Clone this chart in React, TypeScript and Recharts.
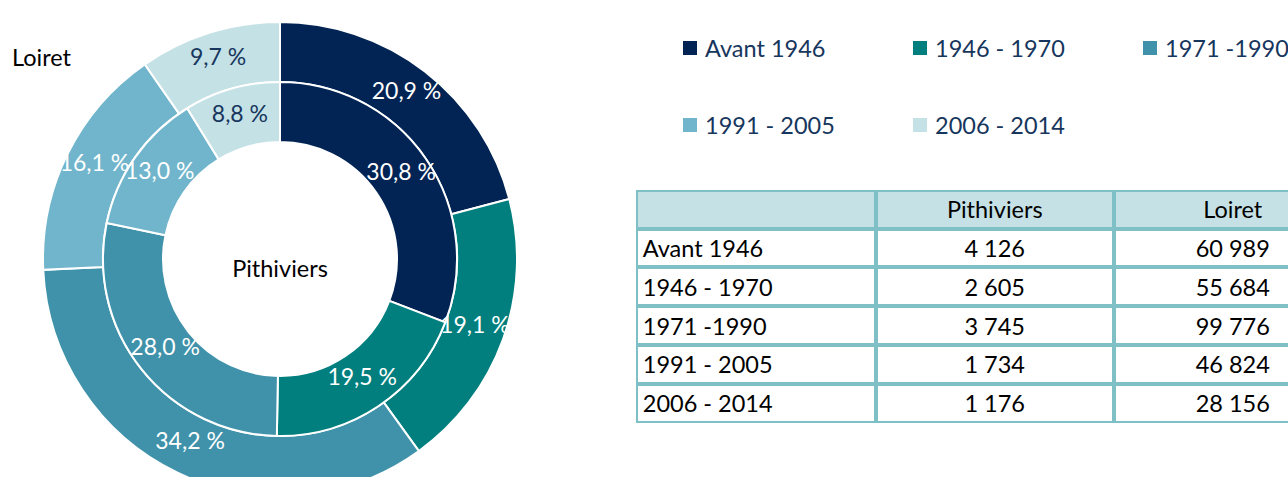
import React from 'react';
import { PieChart, Pie, Cell, Legend } from 'recharts';

const categories = ['Avant 1946', '1946 - 1970', '1971 -1990', '1991 - 2005', '2006 - 2014'];
const pithiviersValues = [4126, 2605, 3745, 1734, 1176];
const loiretValues = [60989, 55684, 99776, 46824, 28156];
const tableHeaders = ['', 'Pithiviers', 'Loiret'];
const pithiviersLabels = ['4 126', '2 605', '3 745', '1 734', '1 176'];
const loiretLabels = ['60 989', '55 684', '99 776', '46 824', '28 156'];
const colors = ['#022454', '#007f7e', '#3f92aa', '#70b5cc', '#c4e1e6'];
const labelColors = ['#ffffff', '#ffffff', '#ffffff', '#ffffff', '#17365d'];

const FONT = 'Lato, "Open Sans", sans-serif';
const RAD = Math.PI / 180;

const pithiviersData = categories.map((name, i) => ({ name, value: pithiviersValues[i] }));
const loiretData = categories.map((name, i) => ({ name, value: loiretValues[i] }));

const fmt = (p: number) => (p * 100).toFixed(1).replace('.', ',') + ' %';

const renderLabel = (props: any) => {
  const { cx, cy, midAngle, innerRadius, outerRadius, percent, index } = props;
  const r = (innerRadius + outerRadius) / 2;
  const x = cx + r * Math.cos(-midAngle * RAD);
  const y = cy + r * Math.sin(-midAngle * RAD) - 5;
  return (
    <text
      x={x}
      y={y}
      textAnchor="middle"
      dominantBaseline="central"
      fill={labelColors[index]}
      fontFamily={FONT}
      fontSize={23}
    >
      {fmt(percent)}
    </text>
  );
};

const LegendContent = () => {
  const xs = [683, 913, 1143];
  const ys = [48, 125];
  return (
    <div style={{ position: 'relative', width: 1288, height: 160 }}>
      {categories.map((c, i) => {
        const col = i % 3;
        const row = Math.floor(i / 3);
        return (
          <div
            key={c}
            style={{
              position: 'absolute',
              left: xs[col],
              top: ys[row] - 14,
              height: 28,
              display: 'flex',
              alignItems: 'center',
              whiteSpace: 'nowrap',
            }}
          >
            <span style={{ width: 14, height: 14, background: colors[i], display: 'inline-block', marginRight: 8 }} />
            <span style={{ fontFamily: FONT, fontSize: 23.5, color: '#17365d', lineHeight: '28px' }}>{c}</span>
          </div>
        );
      })}
    </div>
  );
};

const borderColor = '#7fbfc6';
const colWidths = [240, 238, 238];
const rowH = 38.8;

const DataTable = () => {
  const rows = categories.map((c, i) => [c, pithiviersLabels[i], loiretLabels[i]]);
  const all = [tableHeaders, ...rows];
  const colX = [0, colWidths[0], colWidths[0] + colWidths[1]];
  return (
    <div style={{ position: 'absolute', left: 637, top: 191, width: 720, height: rowH * 6 }}>
      {all.map((r, ri) =>
        r.map((cell, ci) => (
          <div
            key={ri + '-' + ci}
            style={{
              position: 'absolute',
              left: colX[ci] - 1.25,
              top: ri * rowH - 1.25,
              width: colWidths[ci],
              height: rowH,
              boxSizing: 'border-box',
              border: `2.5px solid ${borderColor}`,
              background: ri === 0 ? '#c5e1e5' : '#ffffff',
              display: 'flex',
              alignItems: 'center',
              justifyContent: ci === 0 ? 'flex-start' : 'center',
              paddingLeft: ci === 0 ? 5 : 0,
              fontFamily: FONT,
              fontSize: 23.5,
              color: '#000',
              whiteSpace: 'nowrap',
            }}
          >
            {cell}
          </div>
        ))
      )}
    </div>
  );
};

export default function App() {
  return (
    <div style={{ position: 'absolute', left: 0, top: 0, width: 1288, height: 477, overflow: 'hidden', background: '#fff', fontFamily: FONT }}>
      <PieChart width={1288} height={477} margin={{ top: 0, right: 0, bottom: 0, left: 0 }}>
        <Pie
          data={loiretData}
          dataKey="value"
          nameKey="name"
          cx={280}
          cy={259}
          innerRadius={177}
          outerRadius={237}
          startAngle={90}
          endAngle={-270}
          stroke="#ffffff"
          strokeWidth={2}
          isAnimationActive={false}
          label={renderLabel}
          labelLine={false}
        >
          {loiretData.map((d, i) => (
            <Cell key={d.name} fill={colors[i]} />
          ))}
        </Pie>
        <Pie
          data={pithiviersData}
          dataKey="value"
          nameKey="name"
          cx={280}
          cy={259}
          innerRadius={117}
          outerRadius={177}
          startAngle={90}
          endAngle={-270}
          stroke="#ffffff"
          strokeWidth={2}
          isAnimationActive={false}
          label={renderLabel}
          labelLine={false}
        >
          {pithiviersData.map((d, i) => (
            <Cell key={d.name} fill={colors[i]} />
          ))}
        </Pie>
        <Legend
          content={<LegendContent />}
          wrapperStyle={{ position: 'absolute', left: 0, top: 0, width: 1288, height: 160 }}
        />
        <text x={12} y={66} fontFamily={FONT} fontSize={23.5} fill="#000">
          Loiret
        </text>
        <text x={280} y={277} textAnchor="middle" fontFamily={FONT} fontSize={23.5} fill="#000">
          Pithiviers
        </text>
      </PieChart>
      <DataTable />
    </div>
  );
}
